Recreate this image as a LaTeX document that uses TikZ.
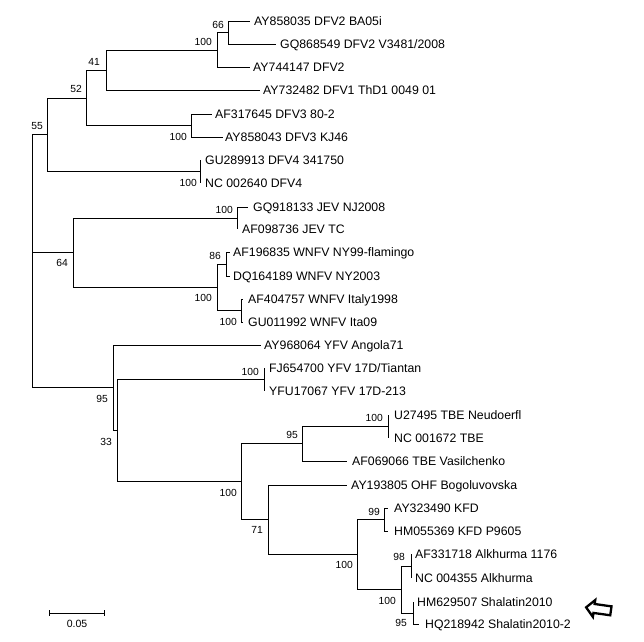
\documentclass[tikz,border=0pt]{standalone}
\usepackage{fontspec}
\setmainfont{Liberation Sans}
\newcommand\leafat[5]{\coordinate (#1) at (#2,#3);
  \node[lbl] (#1t) at (#4,#3+4.4) {#5};}
\newcommand\bsat[4]{\node[bs] (#1) at (#2,#3+3.7) {#4};}
\begin{document}
\begin{tikzpicture}[x=1pt,y=-1pt,
  br/.style={line width=1pt, draw=black},
  lbl/.style={anchor=base west, inner sep=0pt, font=\fontsize{12.3}{14}\selectfont},
  bs/.style={anchor=base east, inner sep=0pt, font=\fontsize{10.3}{12}\selectfont}]
\useasboundingbox[fill=white] (0,0) rectangle (644,641);

% leaves
\leafat{e1}{250}{21}{254}{AY858035 DFV2 BA05i}
\leafat{e2}{276}{44}{280}{GQ868549 DFV2 V3481/2008}
\leafat{e3}{250}{67}{253}{AY744147 DFV2}
\leafat{e4}{260}{90}{263}{AY732482 DFV1 ThD1 0049 01}
\leafat{e5}{212}{114}{215}{AF317645 DFV3 80-2}
\leafat{e6}{223}{137}{225}{AY858043 DFV3 KJ46}
\leafat{e7}{200}{160}{205}{GU289913 DFV4 341750}
\leafat{e8}{200}{183}{205}{NC 002640 DFV4}
\leafat{e9}{248}{207}{253}{GQ918133 JEV NJ2008}
\leafat{e10}{237}{229}{242}{AF098736 JEV TC}
\leafat{e11}{230}{252}{233}{AF196835 WNFV NY99-flamingo}
\leafat{e12}{230}{276}{233}{DQ164189 WNFV NY2003}
\leafat{e13}{243}{299}{248}{AF404757 WNFV Italy1998}
\leafat{e14}{243}{322}{248}{GU011992 WNFV Ita09}
\leafat{e15}{261}{345}{264}{AY968064 YFV Angola71}
\leafat{e16}{264}{368}{269}{FJ654700 YFV 17D/Tiantan}
\leafat{e17}{264}{391}{269}{YFU17067 YFV 17D-213}
\leafat{e18}{388}{415}{394}{U27495 TBE Neudoerfl}
\leafat{e19}{388}{438}{394}{NC 001672 TBE}
\leafat{e20}{347}{461}{352}{AF069066 TBE Vasilchenko}
\leafat{e21}{347}{485}{351}{AY193805 OHF Bogoluvovska}
\leafat{e22}{388}{508}{394}{AY323490 KFD}
\leafat{e23}{388}{531}{394}{HM055369 KFD P9605}
\leafat{e24}{411}{554}{415}{AF331718 Alkhurma 1176}
\leafat{e25}{411}{578}{415}{NC 004355 Alkhurma}
\leafat{e26}{413}{602}{417}{HM629507 Shalatin2010}
\leafat{e27}{419}{624}{425}{HQ218942 Shalatin2010-2}

% internal nodes
\coordinate (n66) at (228,32.5);
\coordinate (nB) at (217,50);
\coordinate (nC) at (106,70);
\coordinate (nD3) at (191,125.5);
\coordinate (nD) at (86,98);
\coordinate (nD4) at (200,171.5);
\coordinate (nE) at (47,134.75);
\coordinate (nJ) at (237,218);
\coordinate (n86) at (226,264);
\coordinate (nI) at (241,310.5);
\coordinate (nW) at (217,287);
\coordinate (n64) at (73,252.5);
\coordinate (nY) at (264,379.5);
\coordinate (nT) at (388,426.5);
\coordinate (nTB) at (302,443.75);
\coordinate (nK) at (384,519.5);
\coordinate (nA) at (411,566);
\coordinate (nS) at (413,613);
\coordinate (nAS) at (401,589.5);
\coordinate (nKA) at (357,554.5);
\coordinate (n71) at (268,519.75);
\coordinate (nF) at (241,481.75);
\coordinate (n33) at (117,430.6);
\coordinate (n95) at (113,387.8);
\coordinate (root) at (32,252.5);

% branches
\draw[br] (n66) |- (e1) (n66) |- (e2);
\draw[br] (nB) |- (n66) (nB) |- (e3);
\draw[br] (nC) |- (nB) (nC) |- (e4);
\draw[br] (nD3) |- (e5) (nD3) |- (e6);
\draw[br] (nD) |- (nC) (nD) |- (nD3);
\draw[br] (nD4) |- (e7) (nD4) |- (e8);
\draw[br] (nE) |- (nD) (nE) |- (nD4);
\draw[br] (nJ) |- (e9) (nJ) |- (e10);
\draw[br] (n86) |- (e11) (n86) |- (e12);
\draw[br] (nI) |- (e13) (nI) |- (e14);
\draw[br] (nW) |- (n86) (nW) |- (nI);
\draw[br] (n64) |- (nJ) (n64) |- (nW);
\draw[br] (nY) |- (e16) (nY) |- (e17);
\draw[br] (nT) |- (e18) (nT) |- (e19);
\draw[br] (nTB) |- (nT) (nTB) |- (e20);
\draw[br] (nK) |- (e22) (nK) |- (e23);
\draw[br] (nA) |- (e24) (nA) |- (e25);
\draw[br] (nS) |- (e26) (nS) |- (e27);
\draw[br] (nAS) |- (nA) (nAS) |- (nS);
\draw[br] (nKA) |- (nK) (nKA) |- (nAS);
\draw[br] (n71) |- (e21) (n71) |- (nKA);
\draw[br] (nF) |- (nTB) (nF) |- (n71);
\draw[br] (n33) |- (nY) (n33) |- (nF);
\draw[br] (n95) |- (e15) (n95) |- (n33);
\draw[br] (root) |- (nE) (root) |- (n64) (root) |- (n95);

% bootstrap values
\bsat{b66}{224}{25}{66}
\bsat{bB}{212}{42}{100}
\bsat{bC}{100}{62}{41}
\bsat{bD}{82}{89}{52}
\bsat{bE}{43}{126}{55}
\bsat{bD3}{187}{137}{100}
\bsat{bD4}{197}{183}{100}
\bsat{bJ}{233}{210}{100}
\bsat{b64}{68}{263}{64}
\bsat{b86}{221}{256}{86}
\bsat{bW}{212}{298}{100}
\bsat{bI}{237}{322}{100}
\bsat{bY}{259}{372}{100}
\bsat{b95}{108}{399}{95}
\bsat{b33}{112}{442}{33}
\bsat{bF}{237}{493}{100}
\bsat{bTB}{298}{435}{95}
\bsat{bT}{383}{418}{100}
\bsat{b71}{263}{530}{71}
\bsat{bKA}{353}{565}{100}
\bsat{bK}{380}{512}{99}
\bsat{bA}{405}{557}{98}
\bsat{bAS}{396}{601}{100}
\bsat{bS}{407}{623}{95}

% scale bar
\coordinate (s1) at (49,613);
\coordinate (s2) at (104,613);
\draw[br] (s1) -- (s2);
\draw[br] ([yshift=3pt]s1) -- ([yshift=-3pt]s1);
\draw[br] ([yshift=3pt]s2) -- ([yshift=-3pt]s2);
\node[font=\fontsize{10.5}{12}\selectfont, inner sep=0pt] (slab) at (77,623.5) {0.05};

% arrow
\draw[line width=2.3pt, line join=miter, rotate around={-8:(598,609)}]
  (586,609) -- (594,600.5) -- (594,604.5) -- (611,604.5) -- (611,613.5)
  -- (594,613.5) -- (594,617.5) -- cycle;
\end{tikzpicture}
\end{document}
